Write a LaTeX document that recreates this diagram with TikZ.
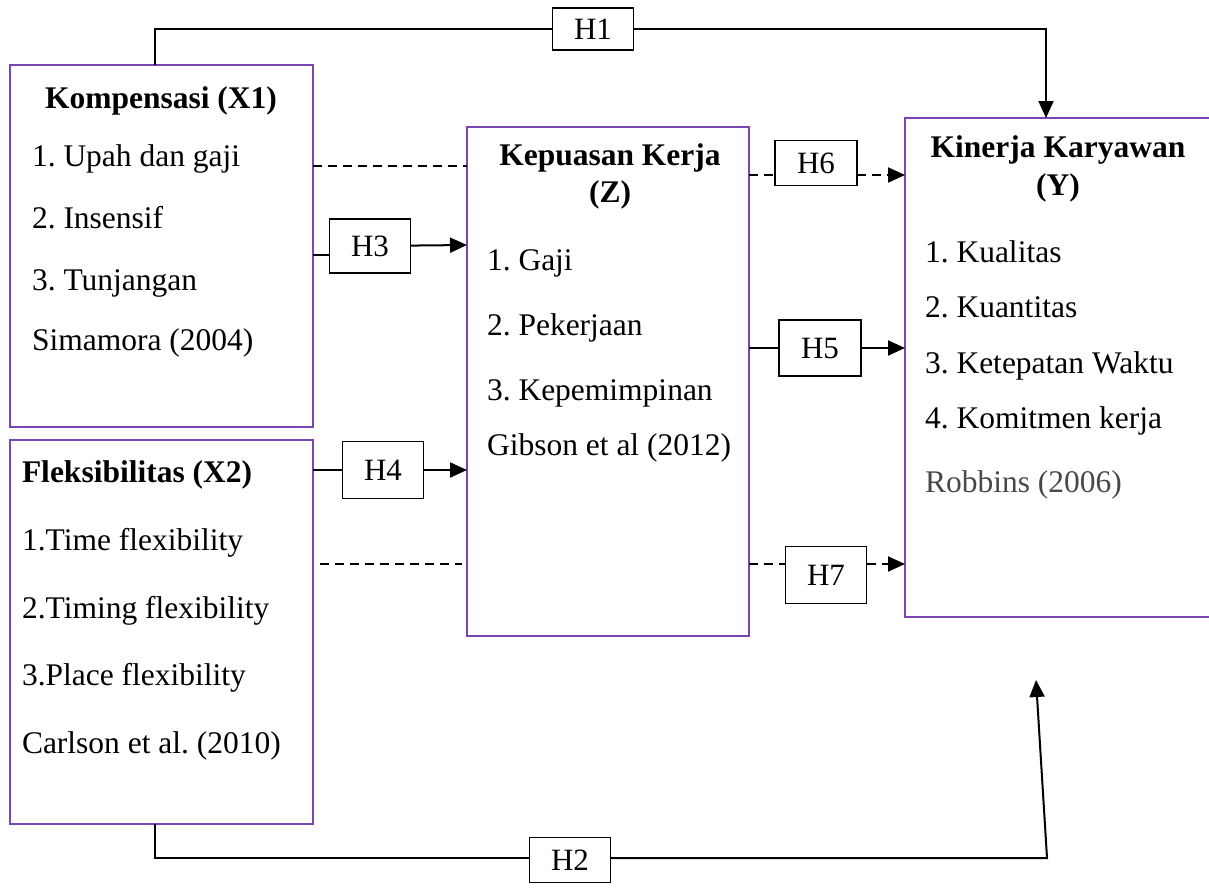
\documentclass[tikz,border=0pt]{standalone}
\usepackage{fontspec}
\setmainfont{Liberation Serif}
\usetikzlibrary{arrows.meta,calc}
\frenchspacing
\definecolor{boxpurple}{RGB}{122,68,180}
\definecolor{refgray}{RGB}{72,72,72}
\tikzset{
  varbox/.style={draw=boxpurple, line width=1.8pt, inner sep=0pt, outer sep=0pt, anchor=north west},
  hbox/.style={draw=black, line width=1.4pt, inner sep=0pt, outer sep=0pt, minimum width=81pt, minimum height=45pt, font=\fontsize{31}{35}\selectfont},
  txt/.style={inner sep=0pt, outer sep=0pt, font=\fontsize{31.5}{36}\selectfont},
  conn/.style={line width=2pt, draw=black},
  arr/.style={conn, -{Triangle[length=17pt,width=15pt]}},
  dsh/.style={conn, dash pattern=on 9pt off 6pt},
  dsharr/.style={dsh, -{Triangle[length=17pt,width=15pt]}}
}
\begin{document}
\begin{tikzpicture}[x=1pt,y=-1pt]
\useasboundingbox (0,0) rectangle (1209,892);
% boxes
\node[varbox, minimum width=303pt, minimum height=362pt] (x1) at (10,65) {};
\node[varbox, minimum width=303pt, minimum height=384pt] (x2) at (10,440) {};
\node[varbox, minimum width=282pt, minimum height=509pt] (z) at (467,127) {};
\node[varbox, minimum width=320pt, minimum height=499pt] (y) at (905,118) {};
% X1 texts
\node[txt, anchor=base] (x1t) at (161,108) {\bfseries Kompensasi (X1)};
\node[txt, anchor=base west] (x1a) at (32,166) {1. Upah dan gaji};
\node[txt, anchor=base west] (x1b) at (32,228) {2. Insensif};
\node[txt, anchor=base west] (x1c) at (32,290) {3. Tunjangan};
\node[txt, anchor=base west] (x1d) at (32,350) {Simamora (2004)};
% X2 texts
\node[txt, anchor=base west] (x2t) at (22,482) {\bfseries Fleksibilitas (X2)};
\node[txt, anchor=base west] (x2a) at (22,550) {1.Time flexibility};
\node[txt, anchor=base west] (x2b) at (22,618) {2.Timing flexibility};
\node[txt, anchor=base west] (x2c) at (22,685) {3.Place flexibility};
\node[txt, anchor=base west] (x2d) at (22,753) {Carlson et al. (2010)};
% Z texts
\node[txt, anchor=base] (zt1) at (610,165) {\bfseries Kepuasan Kerja};
\node[txt, anchor=base] (zt2) at (610,202) {\bfseries (Z)};
\node[txt, anchor=base west] (za) at (487,270) {1. Gaji};
\node[txt, anchor=base west] (zb) at (487,335) {2. Pekerjaan};
\node[txt, anchor=base west] (zc) at (487,400) {3. Kepemimpinan};
\node[txt, anchor=base west] (zd) at (487,455) {Gibson et al (2012)};
% Y texts
\node[txt, anchor=base] (yt1) at (1058,157) {\bfseries Kinerja Karyawan};
\node[txt, anchor=base] (yt2) at (1058,195) {\bfseries (Y)};
\node[txt, anchor=base west] (ya) at (925,262) {1. Kualitas};
\node[txt, anchor=base west] (yb) at (925,317) {2. Kuantitas};
\node[txt, anchor=base west] (yc) at (925,373) {3. Ketepatan Waktu};
\node[txt, anchor=base west] (yd) at (925,428) {4. Komitmen kerja};
\node[txt, anchor=base west, text=refgray] (ye) at (925,492) {Robbins (2006)};
% hypothesis boxes
\node[hbox, minimum height=42pt] (h1) at (593,29) {H1};
\node[hbox] (h2) at (570,860) {H2};
\node[hbox, minimum height=54pt] (h3) at (370,246) {H3};
\node[hbox, minimum height=57pt] (h4) at (383,470) {H4};
\node[hbox, minimum width=82pt, minimum height=56pt] (h5) at (820,348) {H5};
\node[hbox, minimum width=82pt] (h6) at (816,163) {H6};
\node[hbox, minimum height=57pt] (h7) at (826,575) {H7};
% helper coordinates
\coordinate (a1) at (155,65);
\coordinate (b1) at (1046,118);
\coordinate (a2) at (155,824);
\coordinate (c2) at (1047,858);
\coordinate (b2) at (1036,680);
\coordinate (a3) at (313,255);
\coordinate (b3) at (467,245);
\coordinate (d1) at (313,166);
\coordinate (d2) at (320,564);
\coordinate (a6) at (749,175);
\coordinate (a7) at (749,564);
% connectors
\draw[conn] (a1) |- (h1);
\draw[arr] (h1) -| (b1);
\draw[conn] (a2) |- (h2.west |- c2);
\draw[arr] (h2.east |- c2) -- (c2) -- (b2);
\draw[conn] (a3) -- (a3 -| h3.west);
\draw[arr] (h3) -- (b3);
\draw[conn] (h4 -| x2.east) -- (h4);
\draw[arr] (h4) -- (h4 -| z.west);
\draw[conn] (h5 -| z.east) -- (h5);
\draw[arr] (h5) -- (h5 -| y.west);
\draw[dsh] (d1) -- (d1 -| z.west);
\draw[dsh] (d2) -- ($(d2 -| z.west)+(-5,0)$);
\draw[dsh] (a6) -- (a6 -| h6.west);
\draw[dsharr] (a6 -| h6.east) -- (a6 -| y.west);
\draw[dsh] (a7) -- (a7 -| h7.west);
\draw[dsharr] (a7 -| h7.east) -- (a7 -| y.west);
\end{tikzpicture}
\end{document}
